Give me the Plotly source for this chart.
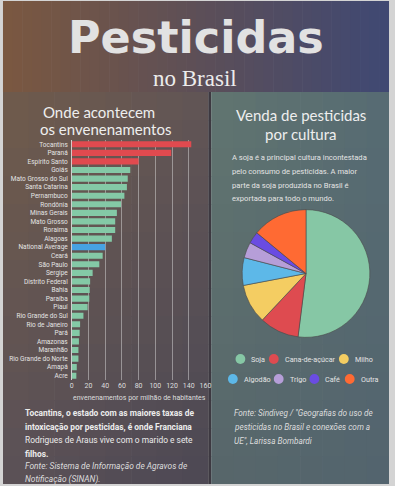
import plotly.graph_objects as go

W, H = 395, 486

# ---------------- data ----------------
states = ["Tocantins", "Paraná", "Espírito Santo", "Goiás", "Mato Grosso do Sul",
          "Santa Catarina", "Pernambuco", "Rondônia", "Minas Gerais", "Mato Grosso",
          "Roraima", "Alagoas", "National Average", "Ceará", "São Paulo", "Sergipe",
          "Distrito Federal", "Bahia", "Paraíba", "Piauí", "Rio Grande do Sul",
          "Rio de Janeiro", "Pará", "Amazonas", "Maranhão", "Rio Grande do Norte",
          "Amapá", "Acre"]
rates = [143, 119, 80, 70, 67, 66, 63, 59, 54, 52, 52, 48, 40, 37, 33, 25,
         22, 21.5, 21, 19, 14, 10, 9.5, 8.6, 8, 8, 6, 5.5]
x_ticks = [0, 20, 40, 60, 80, 100, 120, 140, 160]

crops = ["Soja", "Cana-de-açúcar", "Milho", "Algodão", "Trigo", "Café", "Outra"]
shares = [52, 10, 10, 7, 4, 3, 14]

# ---------------- styles ----------------
RED, GREEN, BLUE = "#e04a4f", "#84c9a6", "#47a2e2"
top_red = {"Tocantins", "Paraná", "Espírito Santo"}
bar_colors = [RED if s in top_red else (BLUE if s == "National Average" else GREEN) for s in states]
pie_colors = ["#86c7a5", "#de4b50", "#f4cd62", "#5db8e8", "#b69ed8", "#6a4ce2", "#ff6a33"]

TXT = "#e9e9e9"
SANS = "Roboto, Liberation Sans, sans-serif"
HEAD = "Lato, Roboto, sans-serif"


def px(x):
    return x / W


def py(y):
    return 1 - y / H


def hexrgb(h):
    h = h.lstrip("#")
    return tuple(int(h[i:i + 2], 16) for i in (0, 2, 4))


def mix(c1, c2, t):
    a, b = hexrgb(c1), hexrgb(c2)
    return "rgb(%d,%d,%d)" % tuple(round(a[i] + (b[i] - a[i]) * t) for i in range(3))


def mix4(tl, tr, bl, br, u, v):
    a = [hexrgb(c) for c in (tl, tr, bl, br)]
    out = []
    for i in range(3):
        t = a[0][i] + (a[1][i] - a[0][i]) * u
        b = a[2][i] + (a[3][i] - a[2][i]) * u
        out.append(round(t + (b - t) * v))
    return "rgb(%d,%d,%d)" % tuple(out)


shapes = []


def rect(x0, y0, x1, y1, color):
    shapes.append(dict(type="rect", xref="paper", yref="paper", x0=px(x0), x1=px(x1),
                       y0=py(y1), y1=py(y0), fillcolor=color, line=dict(width=0), layer="below"))


# header gradient
HX0, HX1, HY0, HY1 = 1, 394, 1, 92
n = 40
for i in range(n):
    t = (i + 0.5) / n
    if t < 0.5:
        c = mix("#7b5840", "#5d4f57", t / 0.5)
    else:
        c = mix("#5d4f57", "#3f4873", (t - 0.5) / 0.5)
    x0 = HX0 + (HX1 - HX0) * i / n
    x1 = HX0 + (HX1 - HX0) * (i + 1) / n + 0.6
    rect(x0, HY0, min(x1, HX1), HY1, c)

# panels
PY0, PY1 = 92, 484
cols, rows = 8, 14


def panel(X0, X1, tl, tr, bl, br):
    for i in range(cols):
        for j in range(rows):
            u, v = (i + 0.5) / cols, (j + 0.5) / rows
            c = mix4(tl, tr, bl, br, u, v)
            x0 = X0 + (X1 - X0) * i / cols
            x1 = min(X0 + (X1 - X0) * (i + 1) / cols + 0.6, X1)
            y0 = PY0 + (PY1 - PY0) * j / rows
            y1 = min(PY0 + (PY1 - PY0) * (j + 1) / rows + 0.6, PY1)
            rect(x0, y0, x1, y1, c)


panel(1, 210, "#705b4b", "#615556", "#5b5157", "#4c4854")
rect(210, 92, 213, 484, "#3d3941")
panel(213, 394, "#617570", "#566b73", "#57666a", "#53646e")

# ---------------- traces ----------------
bar = go.Bar(
    x=rates, y=states, orientation="h", marker=dict(color=bar_colors, line=dict(width=0)),
    xaxis="x", yaxis="y", showlegend=False, hoverinfo="x+y",
)

PCX, PCY, PR = 309.5, 273.5, 65
pie = go.Pie(
    labels=crops, values=shares, sort=False, direction="clockwise", rotation=0,
    marker=dict(colors=pie_colors, line=dict(color="#4a4a4a", width=0.6)),
    textinfo="none", showlegend=False,
    domain=dict(x=[px(PCX - PR), px(PCX + PR)], y=[py(PCY + PR), py(PCY - PR)]),
)

fig = go.Figure([bar, pie])

# ---------------- annotations ----------------
ann = []


def text(x, y, s, size, color=TXT, family=SANS, xanchor="left", bold=False, italic=False):
    if bold:
        s = "<b>" + s + "</b>"
    if italic:
        s = "<i>" + s + "</i>"
    ann.append(dict(x=px(x), y=py(y), xref="paper", yref="paper", text=s, showarrow=False,
                    xanchor=xanchor, yanchor="middle", font=dict(size=size, color=color, family=family)))


text(198, 38, "<b>Pesticidas</b>", 44.5, "#e2e2e2", "DejaVu Sans, Verdana, sans-serif", "center")
text(196, 78, "no Brasil", 23, "#ececec", "Liberation Serif, Times New Roman, serif", "center")

text(99, 112, "Onde acontecem", 15, "#eeeeee", HEAD, "center")
text(105, 129, "os envenenamentos", 15, "#eeeeee", HEAD, "center")

text(304, 115, "Venda de pesticidas", 15, "#eeeeee", HEAD, "center")
text(304, 134, "por cultura", 15, "#eeeeee", HEAD, "center")

para = ["A soja é a principal cultura incontestada",
        "pelo consumo de pesticidas. A maior",
        "parte da soja produzida no Brasil é",
        "exportada para todo o mundo."]
for k, line in enumerate(para):
    text(232, 158 + k * 13.6, line, 7.6, "#e4e4e4", SANS)

story = ["Tocantins, o estado com as maiores taxas de",
         "intoxicação por pesticidas, é onde Franciana",
         "Rodrigues de Araus vive com o marido e sete",
         "filhos."]
for k, line in enumerate(story):
    text(21, 413 + k * 13.5, line, 8.4, "#ececec", SANS, bold=(k < 2 or k == 3))

src1 = ["Fonte: Sistema de Informação de Agravos de", "Notificação (SINAN)."]
for k, line in enumerate(src1):
    text(21, 466 + k * 13.5, line, 8.4, "#dddddd", SANS, italic=True)

src2 = ["Fonte: Sindiveg / \"Geografias do uso de",
        "pesticidas no Brasil e conexões com a",
        "UE\", Larissa Bombardi"]
for k, line in enumerate(src2):
    text(234, 413 + k * 14, line, 8.2, "#dddddd", SANS, italic=True)

text(140, 398, "envenenamentos por milhão de habitantes", 7, "#dddddd", SANS, "center")

# custom legend (circles + labels)
leg_pos = [(242.7, 359), (276.7, 359), (348, 359), (235, 379), (281.7, 379), (318, 379), (354, 379)]
for (cx, cy), lab, col in zip(leg_pos, crops, pie_colors):
    r = 5
    shapes.append(dict(type="circle", xref="paper", yref="paper", x0=px(cx - r), x1=px(cx + r),
                       y0=py(cy + r), y1=py(cy - r), fillcolor=col, line=dict(width=0)))
    text(cx + 9, cy, lab, 7.2, "#e4e4e4", SANS)

fig.update_layout(
    width=W, height=H, margin=dict(l=0, r=0, t=0, b=0),
    paper_bgcolor="#d4d4d4", plot_bgcolor="rgba(0,0,0,0)",
    shapes=shapes, annotations=ann, bargap=0.28,
    xaxis=dict(domain=[px(71), px(208)], range=[0, 161], tickvals=x_ticks,
               showgrid=True, gridcolor="rgba(230,230,230,0.45)", gridwidth=1,
               zeroline=True, zerolinecolor="rgba(240,240,240,0.8)", zerolinewidth=1,
               tickfont=dict(size=7, color="#dddddd", family=SANS), ticks="", fixedrange=True),
    yaxis=dict(domain=[py(380), py(140)], autorange="reversed", showgrid=False,
               tickfont=dict(size=6.5, color="#e4e4e4", family=SANS), ticks="", ticklabelstandoff=3,
               fixedrange=True),
    showlegend=False,
)

fig.write_html("out.html", config={"displayModeBar": False},
               post_script="document.body.style.margin='0';document.body.style.overflow='hidden';")
